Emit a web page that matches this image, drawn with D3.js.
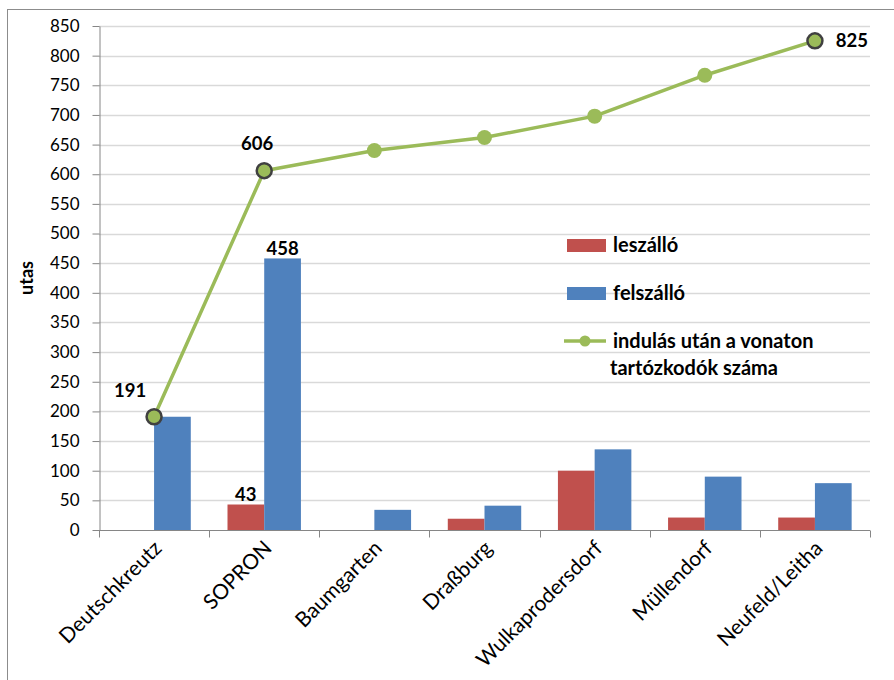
<!DOCTYPE html>
<html>
<head>
<meta charset="utf-8">
<script src="https://cdn.jsdelivr.net/npm/d3@7"></script>
<style>
  html, body { margin: 0; padding: 0; background: #fff; }
  svg { display: block; font-family: Lato, "Open Sans", sans-serif; }
</style>
</head>
<body>
<svg id="chart" width="894" height="680"></svg>
<script>
// Stations along the line
const categories = ["Deutschkreutz", "SOPRON", "Baumgarten", "Draßburg", "Wulkaprodersdorf", "Müllendorf", "Neufeld/Leitha"];
// Passengers getting off at each station
const leszallo = [0, 43, 0, 19, 100, 21, 21];
// Passengers getting on at each station
const felszallo = [191, 458, 34, 41, 136, 90, 79];
// Passengers on board after departure
const onboard = [191, 606, 640, 662, 698, 767, 825];
// Y axis ticks
const yTicks = [0, 50, 100, 150, 200, 250, 300, 350, 400, 450, 500, 550, 600, 650, 700, 750, 800, 850];

const seriesNames = ["leszálló", "felszálló"];
const colors = { "leszálló": "#C0504D", "felszálló": "#4F81BD", line: "#9BBB59" };

const svg = d3.select("#chart");
const plotLeft = 99, plotRight = 870, plotTop = 26, plotBottom = 530;

// chart frame
svg.append("rect").attr("x", 7.5).attr("y", 9.5).attr("width", 900).attr("height", 700)
  .attr("fill", "#fff").attr("stroke", "#8c8c8c").attr("stroke-width", 1);

const x = d3.scaleBand().domain(categories).range([plotLeft, plotRight]).paddingInner(0).paddingOuter(0);
const xs = d3.scaleBand().domain(seriesNames).range([0, x.bandwidth()]).paddingInner(0).paddingOuter(0.5);
const y = d3.scaleLinear().domain([0, 850]).range([plotBottom, plotTop]);

// gridlines
svg.append("g").selectAll("line").data(yTicks.filter(d => d > 0)).join("line")
  .attr("x1", plotLeft).attr("x2", plotRight)
  .attr("y1", d => Math.round(y(d)) + 0.5).attr("y2", d => Math.round(y(d)) + 0.5)
  .attr("stroke", "#d9d9d9").attr("stroke-width", 1.3);

// bars
const rows = categories.map((c, i) => ({ cat: c, "leszálló": leszallo[i], "felszálló": felszallo[i] }));
const barG = svg.append("g");
rows.forEach(r => {
  seriesNames.forEach(s => {
    if (r[s] > 0) {
      barG.append("rect")
        .attr("x", x(r.cat) + xs(s))
        .attr("y", y(r[s]))
        .attr("width", xs.bandwidth())
        .attr("height", y(0) - y(r[s]))
        .attr("fill", colors[s]);
    }
  });
});

// y axis
const yAxis = d3.axisLeft(y).tickValues(yTicks).tickSize(7).tickSizeOuter(0).tickPadding(13);
const yg = svg.append("g").attr("transform", `translate(${plotLeft + 0.5},0)`).call(yAxis);
yg.select(".domain").attr("stroke", "#868686");
yg.selectAll(".tick line").attr("stroke", "#868686");
yg.selectAll(".tick text").attr("font-size", 17).attr("fill", "#000").attr("font-family", "Lato, sans-serif");

// x axis
const xg = svg.append("g").attr("transform", `translate(0,${plotBottom + 0.5})`);
xg.append("line").attr("x1", plotLeft).attr("x2", plotRight).attr("stroke", "#868686");
const boundaries = categories.map(c => x(c)).concat([x.range()[1]]);
xg.selectAll("line.tk").data(boundaries).join("line").attr("class", "tk")
  .attr("x1", d => Math.round(d) + 0.5).attr("x2", d => Math.round(d) + 0.5)
  .attr("y1", 0).attr("y2", 7).attr("stroke", "#868686");
xg.selectAll("text").data(categories).join("text")
  .attr("transform", d => `translate(${x(d) + x.bandwidth() / 2 + 9},${19}) rotate(-45)`)
  .attr("text-anchor", "end")
  .attr("font-size", 21)
  .attr("fill", "#000")
  .text(d => d);

// y axis title
svg.append("text").attr("transform", "translate(33,278) rotate(-90)")
  .attr("text-anchor", "middle").attr("font-size", 18).attr("font-weight", "bold").text("utas");

// line series
const cx = d => x(d) + x.bandwidth() / 2;
const linePts = categories.map((c, i) => [cx(c), y(onboard[i])]);
svg.append("path").attr("d", d3.line()(linePts))
  .attr("fill", "none").attr("stroke", colors.line).attr("stroke-width", 3.5).attr("stroke-linejoin", "round");
const labeledIdx = [0, 1, 6];
svg.append("g").selectAll("circle").data(linePts).join("circle")
  .attr("cx", d => d[0]).attr("cy", d => d[1])
  .attr("r", 7.5)
  .attr("fill", colors.line)
  .attr("stroke", (d, i) => labeledIdx.includes(i) ? "#404040" : "none")
  .attr("stroke-width", 2.5);

// data labels
const lbl = (px, py, t) => svg.append("text").attr("x", px).attr("y", py)
  .attr("text-anchor", "middle").attr("font-size", 18.5).attr("font-weight", "bold").attr("fill", "#000").text(t);
lbl(linePts[0][0] - 24, linePts[0][1] - 20, onboard[0]);
lbl(linePts[1][0] - 7, linePts[1][1] - 21, onboard[1]);
lbl(linePts[6][0] + 37, linePts[6][1] + 6, onboard[6]);
lbl(x(categories[1]) + xs("felszálló") + xs.bandwidth() / 2, y(felszallo[1]) - 3, felszallo[1]);
lbl(x(categories[1]) + xs("leszálló") + xs.bandwidth() / 2, y(leszallo[1]) - 4, leszallo[1]);

// legend
const lg = svg.append("g").attr("font-size", 20).attr("font-weight", "bold");
lg.append("rect").attr("x", 567).attr("y", 239).attr("width", 39).attr("height", 13).attr("fill", colors["leszálló"]);
lg.append("text").attr("x", 613).attr("y", 252).text("leszálló");
lg.append("rect").attr("x", 567).attr("y", 287).attr("width", 39).attr("height", 13).attr("fill", colors["felszálló"]);
lg.append("text").attr("x", 613).attr("y", 300).text("felszálló");
lg.append("line").attr("x1", 564).attr("x2", 606).attr("y1", 341).attr("y2", 341)
  .attr("stroke", colors.line).attr("stroke-width", 3.5);
lg.append("circle").attr("cx", 585).attr("cy", 341).attr("r", 5.5).attr("fill", colors.line);
lg.append("text").attr("x", 613).attr("y", 348).text("indulás után a vonaton");
lg.append("text").attr("x", 610).attr("y", 375).text("tartózkodók száma");
</script>
</body>
</html>
